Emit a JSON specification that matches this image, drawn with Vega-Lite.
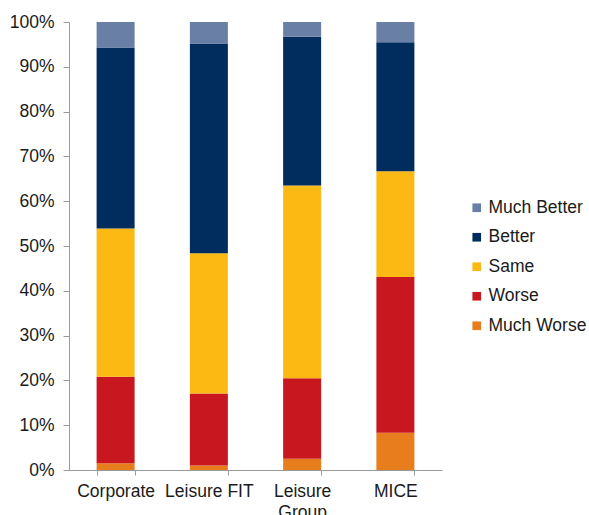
{
  "$schema": "https://vega.github.io/schema/vega-lite/v6.json",
  "width": 373,
  "height": 448,
  "autosize": {"type": "none"},
  "padding": {"left": 69, "top": 22, "right": 147, "bottom": 45},
  "background": "white",
  "config": {
    "view": {"stroke": null},
    "font": "Liberation Sans"
  },
  "data": {
    "values": [
      {"category": "Corporate", "response": "Much Worse", "rank": 1, "value": 0.015},
      {"category": "Corporate", "response": "Worse", "rank": 2, "value": 0.193},
      {"category": "Corporate", "response": "Same", "rank": 3, "value": 0.331},
      {"category": "Corporate", "response": "Better", "rank": 4, "value": 0.404},
      {"category": "Corporate", "response": "Much Better", "rank": 5, "value": 0.057},
      {"category": "Leisure FIT", "response": "Much Worse", "rank": 1, "value": 0.010},
      {"category": "Leisure FIT", "response": "Worse", "rank": 2, "value": 0.161},
      {"category": "Leisure FIT", "response": "Same", "rank": 3, "value": 0.313},
      {"category": "Leisure FIT", "response": "Better", "rank": 4, "value": 0.468},
      {"category": "Leisure FIT", "response": "Much Better", "rank": 5, "value": 0.048},
      {"category": "Leisure Group", "response": "Much Worse", "rank": 1, "value": 0.025},
      {"category": "Leisure Group", "response": "Worse", "rank": 2, "value": 0.180},
      {"category": "Leisure Group", "response": "Same", "rank": 3, "value": 0.430},
      {"category": "Leisure Group", "response": "Better", "rank": 4, "value": 0.332},
      {"category": "Leisure Group", "response": "Much Better", "rank": 5, "value": 0.033},
      {"category": "MICE", "response": "Much Worse", "rank": 1, "value": 0.083},
      {"category": "MICE", "response": "Worse", "rank": 2, "value": 0.348},
      {"category": "MICE", "response": "Same", "rank": 3, "value": 0.236},
      {"category": "MICE", "response": "Better", "rank": 4, "value": 0.288},
      {"category": "MICE", "response": "Much Better", "rank": 5, "value": 0.045}
    ]
  },
  "mark": {"type": "bar"},
  "encoding": {
    "x": {
      "field": "category",
      "type": "nominal",
      "sort": ["Corporate", "Leisure FIT", "Leisure Group", "MICE"],
      "scale": {"paddingInner": 0.5925, "paddingOuter": 0.296},
      "axis": {
        "title": null,
        "labelAngle": 0,
        "labelFontSize": 17.5,
        "labelColor": "#1a1a1a",
        "labelPadding": 7,
        "labelExpr": "datum.value == 'Leisure Group' ? ['Leisure', 'Group'] : datum.value",
        "labelLineHeight": 21,
        "domainColor": "#9a9a9a",
        "tickColor": "#9a9a9a",
        "tickSize": 5,
        "tickBand": "extent",
        "grid": false
      }
    },
    "y": {
      "field": "value",
      "type": "quantitative",
      "stack": "zero",
      "scale": {"domain": [0, 1]},
      "axis": {
        "title": null,
        "format": ".0%",
        "values": [0, 0.1, 0.2, 0.3, 0.4, 0.5, 0.6, 0.7, 0.8, 0.9, 1],
        "labelOverlap": false,
        "labelFontSize": 17.5,
        "labelColor": "#1a1a1a",
        "labelPadding": 9,
        "domainColor": "#9a9a9a",
        "tickColor": "#9a9a9a",
        "tickSize": 6,
        "grid": false
      }
    },
    "order": {"field": "rank", "type": "quantitative", "sort": "ascending"},
    "color": {
      "field": "response",
      "type": "nominal",
      "scale": {
        "domain": ["Much Better", "Better", "Same", "Worse", "Much Worse"],
        "range": ["#6a7fa6", "#002d5e", "#fdb913", "#c8171f", "#e87d1e"]
      },
      "legend": {
        "title": null,
        "orient": "none",
        "legendX": 399,
        "legendY": 177,
        "padding": 0,
        "symbolType": "square",
        "symbolSize": 75,
        "symbolStrokeWidth": 0,
        "labelFontSize": 17.5,
        "labelColor": "#1a1a1a",
        "labelOffset": 3,
        "rowPadding": 10.5
      }
    }
  }
}
